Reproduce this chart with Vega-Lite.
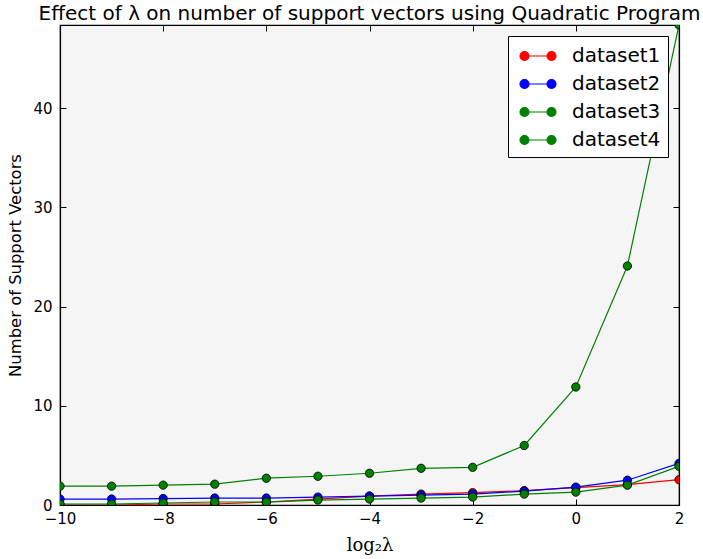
{
  "$schema": "https://vega.github.io/schema/vega-lite/v6.json",
  "width": 619,
  "height": 480,
  "autosize": {"type": "none"},
  "padding": {"left": 60, "top": 25, "right": 24, "bottom": 54},
  "background": "white",
  "title": {
    "text": "Effect of λ on number of support vectors using Quadratic Program",
    "font": "DejaVu Sans",
    "fontSize": 20,
    "fontWeight": "normal",
    "color": "black",
    "anchor": "middle",
    "offset": -1.5
  },
  "config": {
    "view": {"fill": "#f5f5f5", "stroke": "black", "strokeWidth": 1.2},
    "axis": {
      "grid": false,
      "domainColor": "black",
      "domainWidth": 1.2,
      "tickColor": "black",
      "tickSize": -6,
      "tickWidth": 1,
      "labelFont": "DejaVu Sans",
      "labelFontSize": 15,
      "labelColor": "black",
      "titleFont": "DejaVu Sans",
      "titleFontSize": 16.4,
      "titleFontWeight": "normal",
      "titleColor": "black"
    }
  },
  "data": {
    "values": [
      {"x": -10, "y": 0.0, "s": "dataset1"},
      {"x": -9, "y": 0.0, "s": "dataset1"},
      {"x": -8, "y": 0.1, "s": "dataset1"},
      {"x": -7, "y": 0.1, "s": "dataset1"},
      {"x": -6, "y": 0.3, "s": "dataset1"},
      {"x": -5, "y": 0.6, "s": "dataset1"},
      {"x": -4, "y": 0.9, "s": "dataset1"},
      {"x": -3, "y": 1.1, "s": "dataset1"},
      {"x": -2, "y": 1.25, "s": "dataset1"},
      {"x": -1, "y": 1.45, "s": "dataset1"},
      {"x": 0, "y": 1.75, "s": "dataset1"},
      {"x": 1, "y": 2.05, "s": "dataset1"},
      {"x": 2, "y": 2.55, "s": "dataset1"},
      {"x": -10, "y": 0.6, "s": "dataset2"},
      {"x": -9, "y": 0.6, "s": "dataset2"},
      {"x": -8, "y": 0.65, "s": "dataset2"},
      {"x": -7, "y": 0.7, "s": "dataset2"},
      {"x": -6, "y": 0.7, "s": "dataset2"},
      {"x": -5, "y": 0.8, "s": "dataset2"},
      {"x": -4, "y": 0.9, "s": "dataset2"},
      {"x": -3, "y": 1.0, "s": "dataset2"},
      {"x": -2, "y": 1.1, "s": "dataset2"},
      {"x": -1, "y": 1.4, "s": "dataset2"},
      {"x": 0, "y": 1.8, "s": "dataset2"},
      {"x": 1, "y": 2.5, "s": "dataset2"},
      {"x": 2, "y": 4.2, "s": "dataset2"},
      {"x": -10, "y": 0.1, "s": "dataset3"},
      {"x": -9, "y": 0.1, "s": "dataset3"},
      {"x": -8, "y": 0.2, "s": "dataset3"},
      {"x": -7, "y": 0.3, "s": "dataset3"},
      {"x": -6, "y": 0.3, "s": "dataset3"},
      {"x": -5, "y": 0.5, "s": "dataset3"},
      {"x": -4, "y": 0.6, "s": "dataset3"},
      {"x": -3, "y": 0.7, "s": "dataset3"},
      {"x": -2, "y": 0.8, "s": "dataset3"},
      {"x": -1, "y": 1.1, "s": "dataset3"},
      {"x": 0, "y": 1.3, "s": "dataset3"},
      {"x": 1, "y": 2.0, "s": "dataset3"},
      {"x": 2, "y": 3.9, "s": "dataset3"},
      {"x": -10, "y": 1.9, "s": "dataset4"},
      {"x": -9, "y": 1.9, "s": "dataset4"},
      {"x": -8, "y": 2.0, "s": "dataset4"},
      {"x": -7, "y": 2.1, "s": "dataset4"},
      {"x": -6, "y": 2.7, "s": "dataset4"},
      {"x": -5, "y": 2.9, "s": "dataset4"},
      {"x": -4, "y": 3.2, "s": "dataset4"},
      {"x": -3, "y": 3.7, "s": "dataset4"},
      {"x": -2, "y": 3.8, "s": "dataset4"},
      {"x": -1, "y": 6.0, "s": "dataset4"},
      {"x": 0, "y": 11.9, "s": "dataset4"},
      {"x": 1, "y": 24.1, "s": "dataset4"},
      {"x": 2, "y": 48.4, "s": "dataset4"}
    ]
  },
  "layer": [
    {
      "encoding": {
        "x": {"field": "x", "type": "quantitative",
              "scale": {"domain": [-10, 2], "nice": false, "zero": false},
              "axis": {"values": [-10, -8, -6, -4, -2, 0, 2], "title": "log₂λ",
                       "titleFont": "DejaVu Serif", "titleFontSize": 18, "titlePadding": 10, "labelPadding": 12, "labelFlush": false}},
        "y": {"field": "y", "type": "quantitative",
              "scale": {"domain": [0, 48.4], "nice": false},
              "axis": {"values": [0, 10, 20, 30, 40], "title": "Number of Support Vectors",
                       "labelPadding": 14, "titlePadding": 9}},
        "color": {"field": "s", "type": "nominal",
                  "scale": {"domain": ["dataset1", "dataset2", "dataset3", "dataset4"],
                            "range": ["#ff0000", "#0000ff", "#008000", "#008000"]},
                  "legend": {
                    "title": null,
                    "orient": "none",
                    "legendX": 448,
                    "legendY": 11,
                    "fillColor": "white",
                    "strokeColor": "black",
                    "padding": 7,
                    "labelFont": "DejaVu Sans",
                    "labelFontSize": 20,
                    "labelColor": "black",
                    "labelOffset": 21,
                    "symbolOffset": 10,
                    "symbolType": "M-1.5,0A0.375,0.375 0 1,0 -0.75,0A0.375,0.375 0 1,0 -1.5,0Z M0.75,0A0.375,0.375 0 1,0 1.5,0A0.375,0.375 0 1,0 0.75,0Z M-0.75,0L0.75,0",
                    "symbolSize": 576,
                    "symbolStrokeWidth": 1.2,
                    "symbolOpacity": 1,
                    "rowPadding": 5
                  }}
      },
      "layer": [
        {"mark": {"type": "line", "strokeWidth": 1.2, "clip": true}},
        {"mark": {"type": "point", "filled": true, "size": 70, "stroke": "black", "strokeWidth": 0.8, "opacity": 1, "clip": true}}
      ]
    },
    {
      "mark": {"type": "point", "opacity": 0},
      "encoding": {
        "x": {"field": "x", "type": "quantitative",
              "scale": {"domain": [-10, 2], "nice": false, "zero": false},
              "axis": {"orient": "top", "values": [-10, -8, -6, -4, -2, 0, 2], "labels": false, "title": null}},
        "y": {"field": "y", "type": "quantitative",
              "scale": {"domain": [0, 48.4], "nice": false},
              "axis": {"orient": "right", "values": [0, 10, 20, 30, 40], "labels": false, "title": null}}
      }
    }
  ],
  "resolve": {"scale": {"x": "independent", "y": "independent"}, "axis": {"x": "independent", "y": "independent"}}
}
